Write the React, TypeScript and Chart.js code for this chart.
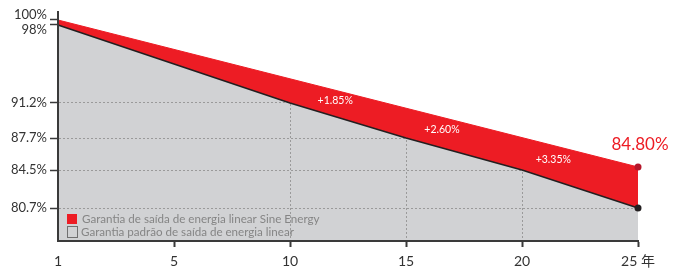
import React, { useEffect, useRef } from 'react';
import { Chart, registerables, LinearScale } from 'chart.js';

// ---- data ----
const years: string[] = ['1', '5', '10', '15', '20', '25 年'];
const sineEnergy: (number | null)[] = [100, null, null, null, null, 84.8];
const standard: (number | null)[] = [98, null, 91.2, 87.7, 84.5, 80.7];
const yTickValues: number[] = [100, 98, 91.2, 87.7, 84.5, 80.7];
const gainLabels: string[] = ['+1.85%', '+2.60%', '+3.35%'];
const endLabel = '84.80%';
const seriesNames: string[] = [
  'Garantia de saída de energia linear Sine Energy',
  'Garantia padrão de saída de energia linear',
];

// ---- axis with a compressed top section (as in the original drawing) ----
// [value, axis position] knots; piecewise linear
const AXIS_KNOTS: [number, number][] = [
  [77.4, 77.4],
  [91.2, 91.2],
  [98, 99.0],
  [100, 99.5],
];

function warp(v: number): number {
  const k = AXIS_KNOTS;
  if (v <= k[0][0]) return k[0][1] + (v - k[0][0]);
  for (let i = 0; i < k.length - 1; i++) {
    const [v0, w0] = k[i];
    const [v1, w1] = k[i + 1];
    if (v <= v1) return w0 + ((v - v0) * (w1 - w0)) / (v1 - v0);
  }
  const [vl, wl] = k[k.length - 1];
  return wl + (v - vl);
}

function unwarp(w: number): number {
  const k = AXIS_KNOTS;
  if (w <= k[0][1]) return k[0][0] + (w - k[0][1]);
  for (let i = 0; i < k.length - 1; i++) {
    const [v0, w0] = k[i];
    const [v1, w1] = k[i + 1];
    if (w <= w1) return v0 + ((w - w0) * (v1 - v0)) / (w1 - w0);
  }
  const [vl, wl] = k[k.length - 1];
  return vl + (w - wl);
}

class BrokenLinearScale extends LinearScale {
  static id = 'brokenLinear';
  static defaults = LinearScale.defaults;
  getPixelForValue(value: number) {
    return super.getPixelForValue(warp(value));
  }
  getValueForPixel(pixel: number) {
    return unwarp(super.getValueForPixel(pixel) as number);
  }
}

Chart.register(...registerables, BrokenLinearScale as any);

// ---- styles ----
const RED = '#ed1c24';
const RED_DOT = '#b5172b';
const DARK = '#231f20';
const AXIS = '#3a3a3a';
const GRAY = '#d1d2d4';
const GRID = '#9a9a9a';
const FONT = "Lato, 'Noto Sans CJK SC', 'Noto Sans', sans-serif";

function yAt(meta: any, x: number): number {
  const pts = meta.data.filter((p: any) => !p.skip);
  for (let i = 0; i < pts.length - 1; i++) {
    const a = pts[i];
    const b = pts[i + 1];
    if (x >= a.x && x <= b.x) return a.y + ((b.y - a.y) * (x - a.x)) / (b.x - a.x);
  }
  return pts[pts.length - 1].y;
}

export default function App() {
  const ref = useRef<HTMLCanvasElement>(null);

  useEffect(() => {
    const bgPlugin = {
      id: 'areaBg',
      beforeDraw(chart: any) {
        const { ctx, chartArea: a } = chart;
        ctx.save();
        ctx.fillStyle = GRAY;
        ctx.fillRect(a.left, a.top, a.right - a.left, a.bottom - a.top);
        ctx.restore();
      },
    };

    const gainIndexPos = [2.39, 3.31, 4.27];

    const labelPlugin = {
      id: 'labels',
      afterDatasetsDraw(chart: any) {
        const { ctx, chartArea: a } = chart;
        const xs = chart.scales.x;
        const redMeta = chart.getDatasetMeta(0);
        const blackMeta = chart.getDatasetMeta(1);
        ctx.save();
        // gain labels in the red band
        ctx.font = `10.5px ${FONT}`;
        ctx.fillStyle = '#ffffff';
        ctx.textAlign = 'center';
        ctx.textBaseline = 'middle';
        gainLabels.forEach((t, i) => {
          const x = xs.getPixelForValue(gainIndexPos[i]);
          const y = (yAt(redMeta, x) + yAt(blackMeta, x)) / 2 - 3;
          ctx.fillText(t, x, y);
        });
        // end label
        const last = redMeta.data[redMeta.data.length - 1];
        ctx.font = `17px ${FONT}`;
        ctx.fillStyle = RED;
        ctx.fillText(endLabel, last.x + 2, last.y - 22);

        // legend inside chart area
        const lx = a.left + 9;
        const ly1 = a.bottom - 22;
        const ly2 = a.bottom - 9;
        ctx.fillStyle = RED;
        ctx.fillRect(lx, ly1 - 5, 10, 10);
        ctx.fillStyle = GRAY;
        ctx.fillRect(lx, ly2 - 5, 10, 11);
        ctx.strokeStyle = '#707070';
        ctx.lineWidth = 1;
        ctx.strokeRect(lx + 0.5, ly2 - 5.5, 10, 11);
        ctx.font = `11.6px ${FONT}`;
        ctx.fillStyle = '#858585';
        ctx.textAlign = 'left';
        ctx.fillText(chart.data.datasets[0].label, lx + 15, ly1);
        ctx.fillText(chart.data.datasets[1].label, lx + 14, ly2);
        ctx.restore();
      },
    };

    const chart = new Chart(ref.current as HTMLCanvasElement, {
      type: 'line',
      data: {
        labels: years,
        datasets: [
          {
            label: seriesNames[0],
            data: sineEnergy,
            borderColor: RED,
            backgroundColor: RED,
            borderWidth: 1,
            fill: 1,
            spanGaps: true,
            tension: 0,
            order: 0,
            clip: false,
            pointRadius: (c: any) => (c.dataIndex === years.length - 1 ? 3.5 : 0),
            pointBackgroundColor: RED_DOT,
            pointBorderWidth: 0,
          } as any,
          {
            label: seriesNames[1],
            data: standard,
            borderColor: DARK,
            backgroundColor: '#ffffff',
            borderWidth: 1.5,
            fill: 'end',
            spanGaps: true,
            tension: 0,
            order: 1,
            clip: false,
            pointRadius: (c: any) => (c.dataIndex === years.length - 1 ? 3.5 : 0),
            pointBackgroundColor: DARK,
            pointBorderWidth: 0,
          } as any,
        ],
      },
      options: {
        responsive: false,
        animation: false,
        events: [],
        layout: { padding: { top: 12, right: 44, left: 0, bottom: 0 } },
        plugins: {
          legend: { display: false },
          tooltip: { enabled: false },
          filler: { drawTime: 'beforeDatasetsDraw' },
        } as any,
        scales: {
          x: {
            type: 'category',
            offset: false,
            afterFit: (s: any) => {
              s.height = 27;
            },
            grid: {
              color: (c: any) => (c.index >= 2 && c.index <= 4 ? GRID : 'rgba(0,0,0,0)'),
              lineWidth: 1,
              tickLength: 6,
              tickWidth: 2,
              tickColor: (c: any) => (c.index === 0 ? 'rgba(0,0,0,0)' : AXIS),
            },
            border: { display: true, color: AXIS, width: 2, dash: [2, 2], z: 1 },
            ticks: {
              color: '#333333',
              font: { family: FONT, size: 14 },
              padding: 6,
              autoSkip: false,
              maxRotation: 0,
            },
          },
          y: {
            type: 'brokenLinear',
            min: 77.4,
            max: 100.3,
            afterFit: (s: any) => {
              s.width = 58;
            },
            afterBuildTicks: (s: any) => {
              s.ticks = yTickValues.map((value) => ({ value }));
            },
            grid: {
              color: GRID,
              lineWidth: 1,
              tickLength: 8,
              tickWidth: 1.5,
              tickColor: AXIS,
            },
            border: { display: true, color: AXIS, width: 2, dash: [2, 2], z: 1 },
            ticks: {
              color: '#333333',
              font: { family: FONT, size: 13, lineHeight: 0.8 },
              padding: 3,
              autoSkip: false,
              callback: (v: any, i: number) => {
                const t = `${v}%`;
                // the two top ticks sit close together: nudge their labels apart
                if (i === 0) return [t, ''];
                if (i === 1) return ['', t];
                return t;
              },
            },
          },
        },
      } as any,
      plugins: [bgPlugin, labelPlugin],
    });
    return () => chart.destroy();
  }, []);

  return (
    <div style={{ position: 'absolute', left: 0, top: 0, width: 682, height: 268, background: '#ffffff' }}>
      <canvas ref={ref} width={682} height={268} style={{ display: 'block' }} />
    </div>
  );
}
